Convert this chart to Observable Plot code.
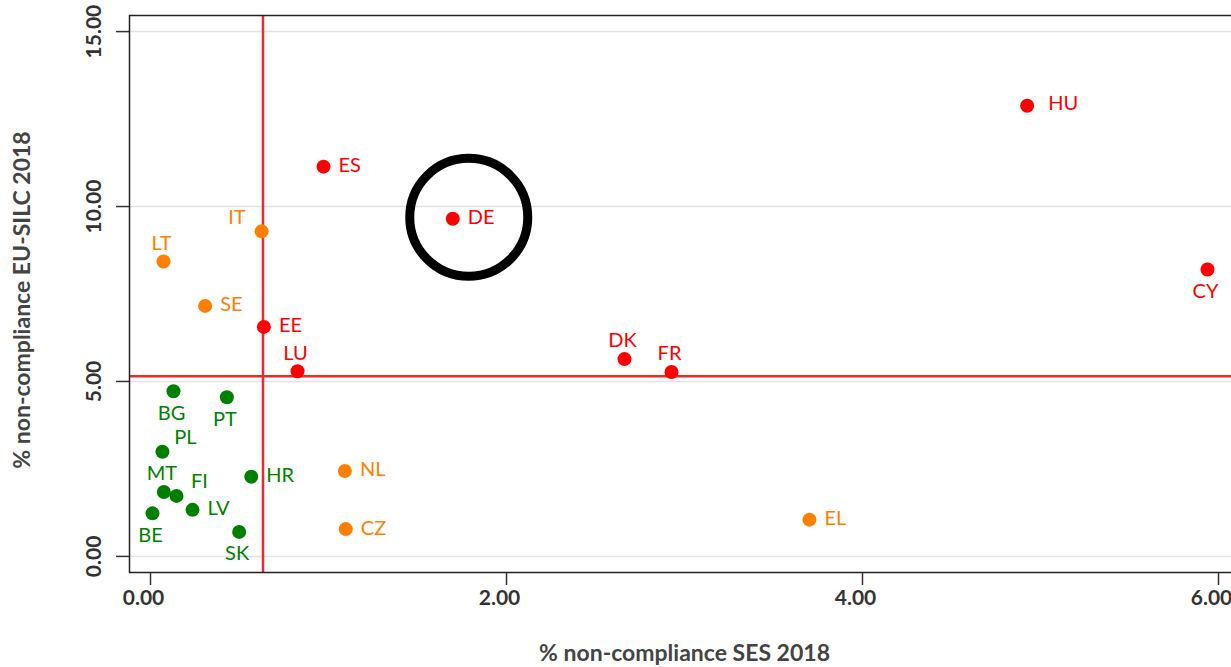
<!DOCTYPE html>
<html>
<head>
<meta charset="utf-8">
<script src="https://cdn.jsdelivr.net/npm/d3@7"></script>
<script src="https://cdn.jsdelivr.net/npm/@observablehq/plot@0.6"></script>
<style>
  html, body { margin: 0; padding: 0; background: #fff; overflow: hidden; }
</style>
</head>
<body>
<div id="chart"></div>
<script>
// Country codes
const countries = ["HU","ES","DE","IT","LT","CY","SE","EE","DK","LU","FR","BG","PT","PL","HR","NL","MT","FI","LV","BE","EL","CZ","SK"];
// % non-compliance SES 2018 (x)
const ses = [4.925,0.972,1.698,0.624,0.073,5.938,0.307,0.637,2.663,0.826,2.927,0.129,0.429,0.067,0.566,1.092,0.075,0.146,0.236,0.011,3.702,1.097,0.498];
// % non-compliance EU-SILC 2018 (y)
const silc = [12.88,11.14,9.65,9.29,8.43,8.20,7.16,6.56,5.64,5.29,5.27,4.72,4.55,2.99,2.28,2.44,1.84,1.73,1.33,1.23,1.05,0.78,0.70];
// Group: both above / one above / both below
const groups = ["both","both","both","one","one","both","one","both","both","both","both","none","none","none","none","one","none","none","none","none","one","one","none"];
// Label placement relative to the point
const placement = ["farRight","right","right","aboveLeft","above","below","right","right","above","above","above","below","below","aboveRight","right","right","above","aboveRight","right","below","right","right","below"];
// Reference lines
const refX = [0.632];
const refY = [5.15];
// Highlighted country
const highlight = ["DE"];
// Tick values
const xTicks = [0, 2, 4, 6];
const yTicks = [0, 5, 10, 15];

const colors = {both: "#ff0000", one: "#ff7f00", none: "#007f00"};
const data = countries.map((c, i) => ({code: c, x: ses[i], y: silc[i], g: groups[i], pos: placement[i]}));

const place = {
  right:      {dx: 15,  dy: -1,  textAnchor: "start"},
  farRight:   {dx: 21,  dy: -2,  textAnchor: "start"},
  above:      {dx: -2,  dy: -18, textAnchor: "middle"},
  below:      {dx: -2,  dy: 22,  textAnchor: "middle"},
  aboveLeft:  {dx: -16, dy: -14, textAnchor: "end"},
  aboveRight: {dx: 23,  dy: -14, textAnchor: "middle"}
};

const font = "Lato, 'Open Sans', sans-serif";
const fmt = d3.format(".2f");

const labelMarks = Object.entries(place).map(([k, o]) =>
  Plot.text(data.filter(d => d.pos === k), {
    x: "x", y: "y", text: "code",
    fill: d => colors[d.g],
    dx: o.dx, dy: o.dy, textAnchor: o.textAnchor, lineAnchor: "middle",
    fontSize: 20, fontFamily: font
  })
);

const chart = Plot.plot({
  width: 1250,
  height: 667,
  marginLeft: 129,
  marginRight: 11,
  marginTop: 15,
  marginBottom: 95,
  style: {fontFamily: font, background: "#fff", maxWidth: "none", overflow: "visible"},
  x: {domain: [-0.118, 6.118]},
  y: {domain: [-0.46, 15.46]},
  marks: [
    Plot.gridY(yTicks, {stroke: "#e3e3e3", strokeOpacity: 1, strokeWidth: 1.5}),
    Plot.ruleY(refY, {stroke: "#ee2a2a", strokeWidth: 2.5}),
    Plot.ruleX(refX, {stroke: "#ee2a2a", strokeWidth: 2.5}),
    Plot.frame({stroke: "#222", strokeWidth: 1.5}),
    Plot.axisY(yTicks, {tickSize: 13, tickFormat: () => "", label: null, stroke: "#333", strokeWidth: 1.5}),
    Plot.axisX(xTicks, {tickSize: 13, tickFormat: () => "", label: null, stroke: "#333", strokeWidth: 1.5}),
    Plot.text(yTicks, {y: d => d, text: d => fmt(d), frameAnchor: "left", dx: -29, rotate: -90,
      textAnchor: "middle", lineAnchor: "bottom", fontSize: 21, fontWeight: 700, fill: "#333", fontFamily: font}),
    Plot.text(xTicks, {x: d => d, text: d => fmt(d), frameAnchor: "bottom", dx: -7, dy: 26,
      textAnchor: "middle", lineAnchor: "middle", fontSize: 21, fontWeight: 700, fill: "#333", fontFamily: font}),
    Plot.text(["% non-compliance SES 2018"], {frameAnchor: "bottom", dy: 81, textAnchor: "middle", lineAnchor: "middle",
      fontSize: 23, fontWeight: 700, fill: "#444", fontFamily: font}),
    Plot.text(["% non-compliance EU-SILC 2018"], {frameAnchor: "left", dx: -107, dy: 6, rotate: -90,
      textAnchor: "middle", lineAnchor: "middle",
      fontSize: 23, fontWeight: 700, fill: "#444", fontFamily: font}),
    Plot.dot(data, {x: "x", y: "y", r: 7, fill: d => colors[d.g], stroke: "none"}),
    ...labelMarks,
    Plot.dot(data.filter(d => highlight.includes(d.code)), {x: "x", y: "y", r: 59, dx: 16, dy: -1.5,
      fill: "none", stroke: "#000", strokeWidth: 9})
  ]
});
document.getElementById("chart").appendChild(chart);
</script>
</body>
</html>
